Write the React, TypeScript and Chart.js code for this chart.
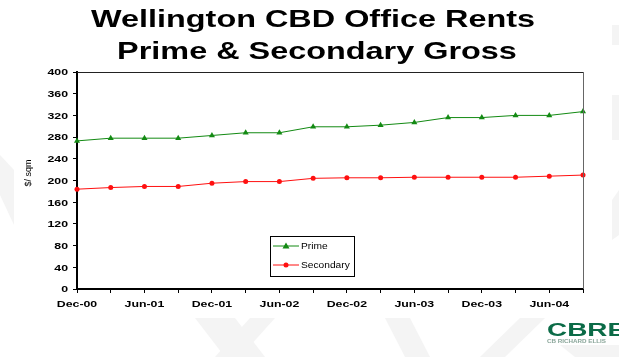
import React, { useEffect, useRef } from "react";
import { Chart, registerables } from "chart.js";

Chart.register(...registerables);

// ---------- data ----------
const TITLE_LINES = ["Wellington CBD Office Rents", "Prime & Secondary Gross"];
const Y_AXIS_TITLE = "$/ sqm";
const QUARTERS = [
  "Dec-00", "Mar-01", "Jun-01", "Sep-01",
  "Dec-01", "Mar-02", "Jun-02", "Sep-02",
  "Dec-02", "Mar-03", "Jun-03", "Sep-03",
  "Dec-03", "Mar-04", "Jun-04", "Sep-04",
];
const PRIME = [273, 278, 278, 278, 283, 288, 288, 299, 299, 302, 307, 316, 316, 320, 320, 327];
const SECONDARY = [184, 187, 189, 189, 195, 198, 198, 204, 205, 205, 206, 206, 206, 206, 208, 210];
const SERIES_NAMES = ["Prime", "Secondary"];
const Y_MIN = 0;
const Y_MAX = 400;
const Y_STEP = 40;
const LOGO_TEXT = "CBRE";
const LOGO_SUB = "CB RICHARD ELLIS";

// ---------- style ----------
const W = 619;
const H = 357;
const STRETCH = 1.37;
const FONT = '"Liberation Sans", Arial, sans-serif';
const GREEN = "#138a13";
const RED = "#ff1010";

function stretchedText(
  ctx: CanvasRenderingContext2D,
  text: string,
  x: number,
  y: number,
  font: string,
  color: string,
  align: CanvasTextAlign,
  baseline: CanvasTextBaseline,
  sx: number
) {
  ctx.save();
  ctx.translate(x, y);
  ctx.scale(sx, 1);
  ctx.font = font;
  ctx.fillStyle = color;
  ctx.textAlign = align;
  ctx.textBaseline = baseline;
  ctx.fillText(text, 0, 0);
  ctx.restore();
}

const backgroundPlugin = {
  id: "bgPlugin",
  beforeDraw(chart: any) {
    const ctx: CanvasRenderingContext2D = chart.ctx;
    ctx.save();
    ctx.fillStyle = "#ffffff";
    ctx.fillRect(0, 0, W, H);
    ctx.fillStyle = "#f4f4f4";
    const polys: number[][][] = [
      [[0, 155], [14, 170], [14, 225], [0, 195]],
      [[612, 25], [619, 25], [619, 45], [612, 45]],
      [[612, 95], [619, 95], [619, 140], [612, 140]],
      [[612, 200], [619, 190], [619, 235], [612, 240]],
      [[195, 318], [235, 318], [265, 357], [225, 357]],
      [[250, 318], [275, 318], [240, 357], [215, 357]],
      [[385, 318], [410, 318], [430, 357], [405, 357]],
      [[480, 357], [520, 318], [545, 318], [505, 357]],
      [[560, 345], [619, 345], [619, 357], [575, 357]],
    ];
    for (const p of polys) {
      ctx.beginPath();
      ctx.moveTo(p[0][0], p[0][1]);
      for (let i = 1; i < p.length; i++) ctx.lineTo(p[i][0], p[i][1]);
      ctx.closePath();
      ctx.fill();
    }
    ctx.fillStyle = "#ffffff";
    ctx.fillRect(14, 0, 598, 318);
    ctx.restore();
  },
  afterDraw(chart: any) {
    const ctx: CanvasRenderingContext2D = chart.ctx;
    const area = chart.chartArea;
    const xs = chart.scales.x;
    const ys = chart.scales.y;

    // frame top/right
    ctx.save();
    ctx.lineWidth = 1;
    ctx.strokeStyle = "#222";
    ctx.beginPath();
    ctx.moveTo(area.left, area.top + 0.5);
    ctx.lineTo(area.right, area.top + 0.5);
    ctx.stroke();
    ctx.strokeStyle = "#666";
    ctx.beginPath();
    ctx.moveTo(area.right + 0.5, area.top);
    ctx.lineTo(area.right + 0.5, area.bottom);
    ctx.stroke();
    ctx.restore();

    // title
    stretchedText(ctx, TITLE_LINES[0], 313, 27, `bold 24px ${FONT}`, "#000", "center", "alphabetic", 1.35);
    stretchedText(ctx, TITLE_LINES[1], 317, 59, `bold 24px ${FONT}`, "#000", "center", "alphabetic", 1.35);

    // x tick labels
    xs.ticks.forEach((t: any, i: number) => {
      if (i % 2 !== 0) return;
      const x = xs.getPixelForTick(i);
      stretchedText(ctx, QUARTERS[i], x, 306.5, `bold 9px ${FONT}`, "#000", "center", "alphabetic", STRETCH);
    });
    // y tick labels
    ys.ticks.forEach((t: any) => {
      const y = ys.getPixelForValue(t.value);
      stretchedText(ctx, String(t.value), 68, y + 3.3, `bold 9px ${FONT}`, "#000", "right", "alphabetic", STRETCH);
    });

    // y axis title
    ctx.save();
    ctx.translate(31, 173);
    ctx.rotate(-Math.PI / 2);
    ctx.font = `9px ${FONT}`;
    ctx.fillStyle = "#000";
    ctx.textAlign = "center";
    ctx.textBaseline = "alphabetic";
    ctx.fillText(Y_AXIS_TITLE, 0, 0);
    ctx.restore();

    // legend
    const lx = 270, ly = 236, lw = 84, lh = 40;
    ctx.save();
    ctx.fillStyle = "#fff";
    ctx.fillRect(lx, ly, lw, lh);
    ctx.strokeStyle = "#000";
    ctx.lineWidth = 1;
    ctx.strokeRect(lx + 0.5, ly + 0.5, lw, lh);
    const rows = [246, 265];
    chart.data.datasets.forEach((ds: any, i: number) => {
      const y = rows[i];
      ctx.strokeStyle = ds.borderColor;
      ctx.lineWidth = 1;
      ctx.beginPath();
      ctx.moveTo(273, y);
      ctx.lineTo(299, y);
      ctx.stroke();
      ctx.fillStyle = ds.borderColor;
      if (ds.pointStyle === "triangle") {
        ctx.beginPath();
        ctx.moveTo(286, y - 3.5);
        ctx.lineTo(289.5, y + 2.5);
        ctx.lineTo(282.5, y + 2.5);
        ctx.closePath();
        ctx.fill();
      } else {
        ctx.beginPath();
        ctx.arc(286, y, 2.5, 0, Math.PI * 2);
        ctx.fill();
      }
      stretchedText(ctx, ds.label, 301, y + 3, `8.5px ${FONT}`, "#000", "left", "alphabetic", 1.2);
    });
    ctx.restore();

    // logo
    stretchedText(ctx, LOGO_TEXT, 547, 336, `bold 18px ${FONT}`, "#0b6b47", "left", "alphabetic", 1.55);
    stretchedText(ctx, LOGO_SUB, 547, 343, `bold 5px ${FONT}`, "#8aa69a", "left", "alphabetic", 1.25);
  },
};

export default function App() {
  const ref = useRef<HTMLCanvasElement | null>(null);

  useEffect(() => {
    document.body.style.margin = "0";
    const canvas = ref.current;
    if (!canvas) return;
    const axisCommon = {
      grid: {
        drawOnChartArea: false,
        drawTicks: true,
        tickLength: 4,
        tickColor: "#000",
        color: "#000",
      },
      border: { display: true, color: "#000", width: 2 },
      ticks: { display: false },
    };
    const chart = new Chart(canvas, {
      type: "line",
      data: {
        labels: QUARTERS,
        datasets: [
          {
            label: SERIES_NAMES[0],
            data: PRIME,
            borderColor: GREEN,
            backgroundColor: GREEN,
            borderWidth: 1,
            pointStyle: "triangle",
            pointRadius: 3.5,
            pointBorderWidth: 0,
            tension: 0,
            clip: false as any,
          },
          {
            label: SERIES_NAMES[1],
            data: SECONDARY,
            borderColor: RED,
            backgroundColor: RED,
            borderWidth: 1,
            pointStyle: "circle",
            pointRadius: 2.5,
            pointBorderWidth: 0,
            tension: 0,
            clip: false as any,
          },
        ],
      },
      options: {
        responsive: false,
        animation: false,
        devicePixelRatio: 1,
        layout: { padding: { top: 72, right: 36, left: 0, bottom: 0 } },
        plugins: {
          legend: { display: false },
          title: { display: false },
          tooltip: { enabled: false },
        },
        scales: {
          x: {
            ...axisCommon,
            offset: false,
            ticks: { display: false, autoSkip: false },
            afterFit: (s: any) => {
              s.height = 68;
            },
          } as any,
          y: {
            ...axisCommon,
            min: Y_MIN,
            max: Y_MAX,
            ticks: { display: false, stepSize: Y_STEP },
            afterFit: (s: any) => {
              s.width = 77;
            },
          } as any,
        },
      },
      plugins: [backgroundPlugin],
    });
    return () => chart.destroy();
  }, []);

  return (
    <div style={{ width: W, height: H }}>
      <canvas ref={ref} width={W} height={H} style={{ display: "block" }} />
    </div>
  );
}
